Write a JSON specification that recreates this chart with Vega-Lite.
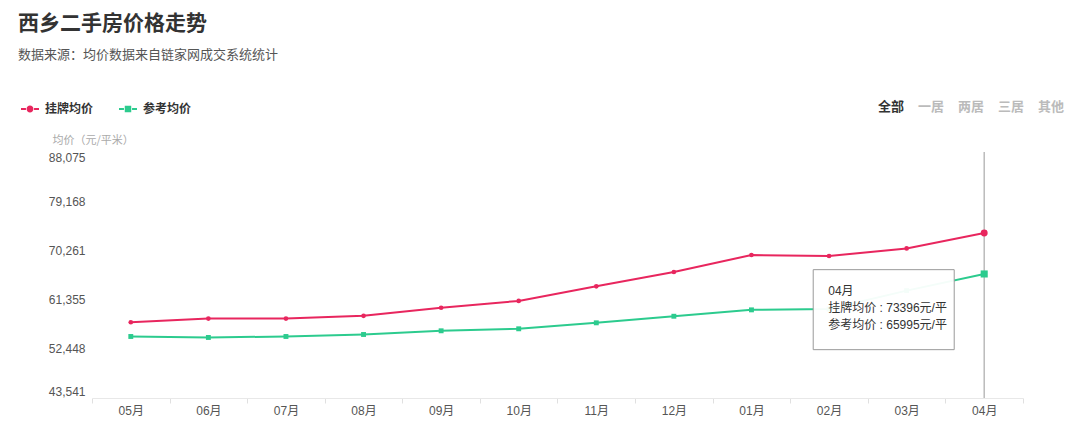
{
  "$schema": "https://vega.github.io/schema/vega-lite/v6.json",
  "width": 931,
  "height": 246,
  "autosize": "none",
  "padding": {"left": 92, "top": 152, "right": 57, "bottom": 41},
  "background": "white",
  "config": {
    "font": "Liberation Sans, Noto Sans CJK SC, sans-serif",
    "view": {"stroke": null},
    "text": {"lineBreak": "\n"}
  },
  "title": {
    "text": "西乡二手房价格走势",
    "subtitle": "数据来源：均价数据来自链家网成交系统统计",
    "anchor": "start",
    "frame": "group",
    "dx": -74,
    "offset": 38,
    "font": "Noto Sans CJK SC",
    "fontSize": 21,
    "fontWeight": "bold",
    "color": "#333333",
    "subtitleFont": "Noto Sans CJK SC",
    "subtitleFontSize": 13,
    "subtitleColor": "#555555",
    "subtitlePadding": 15
  },
  "datasets": {
    "prices": [
      {"month": "05月", "series": "挂牌均价", "price": 57259},
      {"month": "06月", "series": "挂牌均价", "price": 57927},
      {"month": "07月", "series": "挂牌均价", "price": 57927},
      {"month": "08月", "series": "挂牌均价", "price": 58414},
      {"month": "09月", "series": "挂牌均价", "price": 59877},
      {"month": "10月", "series": "挂牌均价", "price": 61122},
      {"month": "11月", "series": "挂牌均价", "price": 63757},
      {"month": "12月", "series": "挂牌均价", "price": 66356},
      {"month": "01月", "series": "挂牌均价", "price": 69425},
      {"month": "02月", "series": "挂牌均价", "price": 69245},
      {"month": "03月", "series": "挂牌均价", "price": 70616},
      {"month": "04月", "series": "挂牌均价", "price": 73396},
      {"month": "05月", "series": "参考均价", "price": 54678},
      {"month": "06月", "series": "参考均价", "price": 54498},
      {"month": "07月", "series": "参考均价", "price": 54678},
      {"month": "08月", "series": "参考均价", "price": 55039},
      {"month": "09月", "series": "参考均价", "price": 55707},
      {"month": "10月", "series": "参考均价", "price": 56068},
      {"month": "11月", "series": "参考均价", "price": 57151},
      {"month": "12月", "series": "参考均价", "price": 58342},
      {"month": "01月", "series": "参考均价", "price": 59497},
      {"month": "02月", "series": "参考均价", "price": 59642},
      {"month": "03月", "series": "参考均价", "price": 62981},
      {"month": "04月", "series": "参考均价", "price": 65995}
    ],
    "tip": [
      {"month": "04月", "price": 65995, "label": "04月\n挂牌均价 : 73396元/平\n参考均价 : 65995元/平"}
    ]
  },
  "encoding": {
    "x": {
      "field": "month",
      "type": "ordinal",
      "sort": ["05月", "06月", "07月", "08月", "09月", "10月", "11月", "12月", "01月", "02月", "03月", "04月"],
      "scale": {"type": "band", "paddingInner": 0, "paddingOuter": 0},
      "axis": {
        "title": null,
        "labelAngle": 0,
        "labelColor": "#555555",
        "labelFontSize": 12,
        "labelPadding": 2,
        "domainColor": "#e8e8e8",
        "tickColor": "#e0e0e0",
        "tickSize": 5,
        "tickBand": "extent",
        "grid": false
      }
    },
    "y": {
      "field": "price",
      "type": "quantitative",
      "scale": {"domain": [43541, 88075], "nice": false, "zero": false},
      "axis": {
        "values": [43541, 52448, 61355, 70261, 79168, 88075],
        "format": ",d",
        "labelFlush": true,
        "domain": false,
        "ticks": false,
        "grid": false,
        "labelColor": "#555555",
        "labelFontSize": 12,
        "labelPadding": 7,
        "title": "均价（元/平米）",
        "titleAngle": 0,
        "titleAlign": "left",
        "titleBaseline": "middle",
        "titleX": -40,
        "titleY": -12,
        "titleColor": "#aaaaaa",
        "titleFontSize": 11,
        "titleFontWeight": "normal",
        "titleFont": "Noto Sans CJK SC"
      }
    }
  },
  "layer": [
    {
      "data": {"name": "tip"},
      "mark": {"type": "rule", "color": "#bbbbbb", "strokeWidth": 1.5},
      "encoding": {"y": null}
    },
    {
      "data": {"name": "prices"},
      "transform": [{"filter": "datum.series === '挂牌均价'"}],
      "mark": {"type": "line", "strokeWidth": 2, "color": "#e8265e"}
    },
    {
      "data": {"name": "prices"},
      "transform": [{"filter": "datum.series === '参考均价'"}],
      "mark": {"type": "line", "strokeWidth": 2, "color": "#2ccb8e"}
    },
    {
      "data": {"name": "prices"},
      "transform": [{"filter": "datum.series === '挂牌均价' && datum.month !== '04月'"}],
      "mark": {"type": "point", "shape": "circle", "filled": true, "opacity": 1, "size": 22, "color": "#e8265e"}
    },
    {
      "data": {"name": "prices"},
      "transform": [{"filter": "datum.series === '参考均价' && datum.month !== '04月'"}],
      "mark": {"type": "point", "shape": "square", "filled": true, "opacity": 1, "size": 24, "color": "#2ccb8e"}
    },
    {
      "data": {"name": "prices"},
      "transform": [{"filter": "datum.series === '挂牌均价' && datum.month === '04月'"}],
      "mark": {"type": "point", "shape": "circle", "filled": true, "opacity": 1, "size": 48, "color": "#e8265e"}
    },
    {
      "data": {"name": "prices"},
      "transform": [{"filter": "datum.series === '参考均价' && datum.month === '04月'"}],
      "mark": {"type": "point", "shape": "square", "filled": true, "opacity": 1, "size": 50, "color": "#2ccb8e"}
    },
    {
      "data": {"name": "tip"},
      "mark": {"type": "rect", "width": 141, "height": 80, "xOffset": -100.5, "yOffset": 35.7, "fill": "white", "fillOpacity": 0.95, "stroke": "#999999", "strokeWidth": 1}
    },
    {
      "data": {"name": "tip"},
      "mark": {"type": "text", "align": "left", "baseline": "top", "dx": -156, "dy": 12, "fontSize": 12, "lineHeight": 17, "color": "#333333"},
      "encoding": {
        "text": {"field": "label", "type": "nominal"}
      }
    },
    {
      "data": {"name": "prices"},
      "transform": [{"filter": "false"}],
      "mark": {"type": "point", "filled": true, "opacity": 1},
      "encoding": {
        "color": {
          "field": "series",
          "type": "nominal",
          "scale": {"domain": ["挂牌均价", "参考均价"], "range": ["#e8265e", "#2ccb8e"]},
          "legend": {
            "title": null, "orient": "none", "legendX": -71, "legendY": -52, "direction": "horizontal",
            "padding": 0, "labelFont": "Noto Sans CJK SC", "labelFontSize": 12, "labelFontWeight": "bold", "labelColor": "#333333",
            "symbolSize": 324, "symbolStrokeWidth": 0, "labelOffset": 6, "columnPadding": 25, "symbolOpacity": 1
          }
        },
        "shape": {
          "field": "series",
          "type": "nominal",
          "scale": {
            "domain": ["挂牌均价", "参考均价"],
            "range": [
              "M-1,-0.1H-0.45V0.1H-1Z M0.45,-0.1H1V0.1H0.45Z M0.38,0A0.38,0.38,0,1,1,-0.38,0A0.38,0.38,0,1,1,0.38,0Z",
              "M-1,-0.1H-0.45V0.1H-1Z M0.45,-0.1H1V0.1H0.45Z M-0.36,-0.36H0.36V0.36H-0.36Z"
            ]
          },
          "legend": {
            "title": null, "orient": "none", "legendX": -71, "legendY": -52, "direction": "horizontal",
            "padding": 0, "labelFont": "Noto Sans CJK SC", "labelFontSize": 12, "labelFontWeight": "bold", "labelColor": "#333333",
            "symbolSize": 324, "symbolStrokeWidth": 0, "labelOffset": 6, "columnPadding": 25, "symbolOpacity": 1
          }
        }
      }
    },
    {
      "data": {"name": "prices"},
      "transform": [{"filter": "false"}],
      "mark": {"type": "point"},
      "encoding": {
        "strokeDash": {
          "field": "tab",
          "type": "nominal",
          "scale": {"domain": ["全部", "一居", "两居", "三居", "其他"]},
          "legend": {
            "title": null, "orient": "none", "legendX": 773, "legendY": -52, "direction": "horizontal",
            "padding": 0, "labelFont": "Noto Sans CJK SC", "labelFontSize": 13, "labelFontWeight": "bold",
            "labelColor": {"expr": "datum.value === '全部' ? '#333333' : '#bbbbbb'"},
            "symbolSize": 0, "symbolOpacity": 0, "symbolStrokeWidth": 0, "labelOffset": 0, "columnPadding": 0,
            "encode": {"labels": {"fill": {"condition": {"test": "datum.value === '全部'", "value": "#333333"}, "value": "#bbbbbb"}}}
          }
        }
      }
    }
  ]
}
